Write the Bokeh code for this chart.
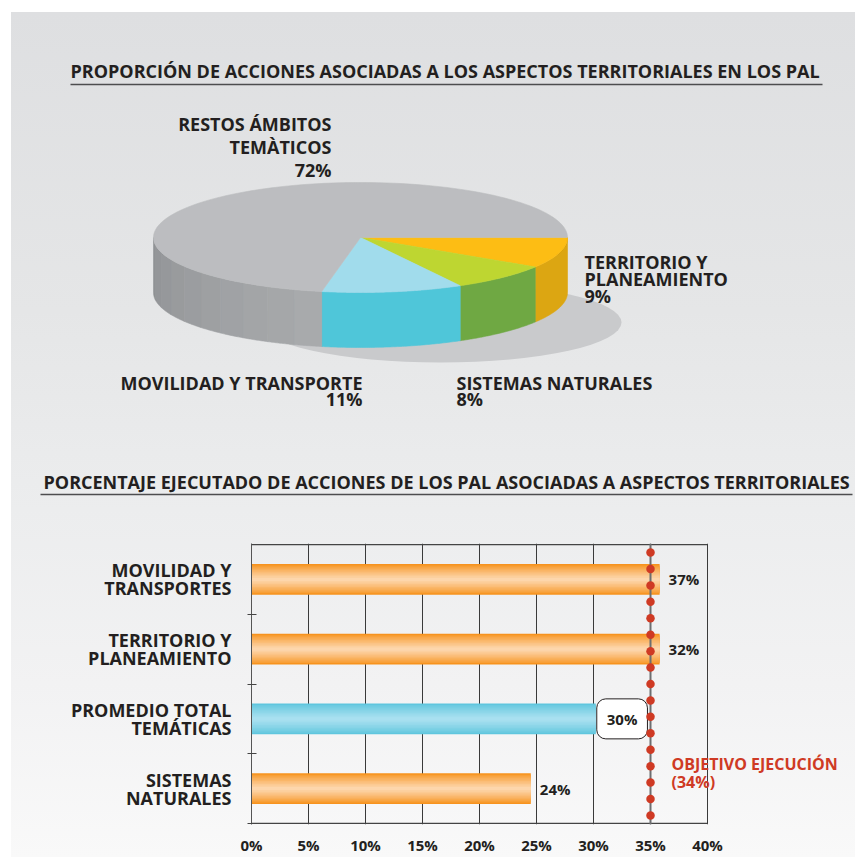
import numpy as np
from bokeh.plotting import figure
from bokeh.models import Range1d, FixedTicker, Label, ColumnDataSource
from bokeh.core.properties import value
from bokeh.embed import file_html
from bokeh.resources import INLINE

# ---------------- data ----------------
pie_title = "PROPORCIÓN DE ACCIONES ASOCIADAS A  LOS ASPECTOS TERRITORIALES EN LOS PAL"
pie_categories = ["TERRITORIO Y\nPLANEAMIENTO", "SISTEMAS NATURALES",
                  "MOVILIDAD Y TRANSPORTE", "RESTOS ÁMBITOS\nTEMÀTICOS"]
pie_values = [9, 8, 11, 72]
pie_top_colors = ["#fdbd14", "#bed631", "#a1dcec", "#bcbdc0"]
pie_side_colors = ["#dca612", "#6fa843", "#4fc6d9", "#9c9ea1"]

bar_title = "PORCENTAJE EJECUTADO DE ACCIONES DE LOS PAL ASOCIADAS A ASPECTOS TERRITORIALES"
bar_categories = ["MOVILIDAD Y\nTRANSPORTES", "TERRITORIO Y\nPLANEAMIENTO",
                  "PROMEDIO TOTAL\nTEMÁTICAS", "SISTEMAS\nNATURALES"]
bar_labels = ["37%", "32%", "30%", "24%"]
bar_lengths = [35.8, 35.8, 30.2, 24.5]   # drawn lengths
bar_kinds = ["orange", "orange", "blue", "orange"]
objective_x = 35
objective_text = ["OBJETIVO EJECUCIÓN", "(34%)"]
x_ticks = [0, 5, 10, 15, 20, 25, 30, 35, 40]
x_tick_labels = ["0%", "5%", "10%", "15%", "20%", "25%", "30%", "35%", "40%"]

# ---------------- styles ----------------
FONT = "Open Sans"
INK = "#231f20"
RED = "#cf3a24"
EDGE = {"orange": (0xf7, 0x93, 0x1e), "blue": (0x5f, 0xc6, 0xde)}
CORE = {"orange": (0xfd, 0xd6, 0xac), "blue": (0xa9, 0xe0, 0xf0)}
W = 855
H1 = 510
H2 = 347

def mix(c0, c1, f):
    return "#%02x%02x%02x" % tuple(int(round(a + (b - a) * f)) for a, b in zip(c0, c1))

# ---------------- top figure (pie) ----------------
p1 = figure(width=W, height=H1, x_range=Range1d(0, W), y_range=Range1d(H1, 0),
            output_backend="svg", toolbar_location=None, min_border=0,
            x_axis_type=None, y_axis_type=None,
            border_fill_color=None, background_fill_color=None, outline_line_color=None)
p1.grid.visible = False
p1.styles = {
    "background": "linear-gradient(to bottom, #dedfe1 0%, #e5e6e7 60%, #ecedee 100%)",
    "background-repeat": "no-repeat",
    "background-position": "11px 12px",
    "background-size": "calc(100% - 11px) calc(100% - 12px)",
}

def title_with_rule(p, x, y, text, x0, x1, yr):
    p.text(x=[x], y=[y], text=[text], text_font=value(FONT), text_font_style="bold",
           text_font_size="18px", text_color=INK, text_baseline="middle", text_align="left")
    p.segment(x0=[x0], x1=[x1], y0=[yr], y1=[yr], line_color="#4d4d4f", line_width=1.6)

title_with_rule(p1, 70, 70, pie_title, 70, 822, 84)
title_with_rule(p1, 43, 481, bar_title, 40, 852, 494)

cx, cy, rx, ry, depth = 360.0, 237.0, 207.0, 55.0, 55.0

# shadow
p1.ellipse(x=[440], y=[322], width=[362], height=[80], fill_color="#c9cacc",
           line_color=None)

tot = float(sum(pie_values))
bounds = np.concatenate([[0.0], np.cumsum(pie_values) / tot * 2 * np.pi])

side_xs, side_ys, side_cols = [], [], []
top_xs, top_ys = [], []
for i in range(len(pie_values)):
    a, b = bounds[i], bounds[i + 1]
    t = np.linspace(a, b, 120)
    top_xs.append([cx] + list(cx + rx * np.cos(t)))
    top_ys.append([cy] + list(cy + ry * np.sin(t)))
    lo, hi = max(a, 0.0), min(b, np.pi)
    if hi > lo:
        if i == len(pie_values) - 1:
            nn = 10
            edges = np.linspace(lo, hi, nn + 1)
            for k in range(nn):
                tt = np.linspace(edges[k], edges[k + 1], 20)
                xt = cx + rx * np.cos(tt); yt = cy + ry * np.sin(tt)
                side_xs.append(list(xt) + list(xt[::-1]))
                side_ys.append(list(yt) + list((yt + depth)[::-1]))
                side_cols.append(mix((0xa9, 0xab, 0xad), (0x90, 0x92, 0x95), (k + 0.5) / nn))
        else:
            tt = np.linspace(lo, hi, 80)
            xt = cx + rx * np.cos(tt); yt = cy + ry * np.sin(tt)
            side_xs.append(list(xt) + list(xt[::-1]))
            side_ys.append(list(yt) + list((yt + depth)[::-1]))
            side_cols.append(pie_side_colors[i])

p1.patches(xs=side_xs, ys=side_ys, fill_color=side_cols, line_color=side_cols, line_width=0.6)
p1.patches(xs=top_xs, ys=top_ys, fill_color=pie_top_colors, line_color=pie_top_colors,
           line_width=0.6)

# pie labels: (x, align, first line y, line spacing)
pie_label_layout = [(584, "left", 261.5, 17), (456, "left", 382, 16),
                    (362, "right", 382, 16), (331, "right", 123.5, 23)]
lx, ly, lt, la = [], [], [], []
for cat, v, (x, al, y0, dy) in zip(pie_categories, pie_values, pie_label_layout):
    lines = cat.split("\n") + [f"{v}%"]
    for j, ln in enumerate(lines):
        lx.append(x); ly.append(y0 + j * dy); lt.append(ln); la.append(al)
p1.text(x=lx, y=ly, text=lt, text_align=la, text_baseline="middle",
        text_font=value(FONT), text_font_style="bold", text_font_size="18px",
        text_color=INK)

# ---------------- bottom figure (bars) ----------------
n = len(bar_categories)
ypos = [n - i - 0.5 for i in range(n)]
eps = 0.015
FRAME_L, FRAME_R40 = 251, 707
x_end = 40 * (W - FRAME_L) / (FRAME_R40 - FRAME_L)   # room on the right for the note

p2 = figure(width=W, height=H2, x_range=Range1d(0, x_end), y_range=Range1d(-eps, n + eps),
            output_backend="svg", toolbar_location=None,
            min_border_left=FRAME_L, min_border_right=0, min_border_top=33,
            min_border_bottom=29,
            border_fill_color=None, background_fill_color=None, outline_line_color=None)
p2.styles = {
    "background": "linear-gradient(to bottom, #ecedee 0%, #f2f2f3 50%, #f9f9f9 100%)",
    "background-repeat": "no-repeat",
    "background-position": "11px 0px",
    "background-size": "calc(100% - 11px) 100%",
}

p2.xgrid.ticker = FixedTicker(ticks=x_ticks)
p2.xgrid.grid_line_color = "#3a3a3a"
p2.xgrid.grid_line_width = 1
p2.ygrid.visible = False

xa = p2.xaxis[0]
xa.ticker = FixedTicker(ticks=x_ticks)
xa.major_label_overrides = {t: l for t, l in zip(x_ticks, x_tick_labels)}
xa.major_tick_in = 0; xa.major_tick_out = 0
xa.minor_tick_line_color = None
xa.axis_line_color = None
xa.major_label_standoff = 10
xa.major_label_text_font = FONT
xa.major_label_text_font_style = "bold"
xa.major_label_text_font_size = "15px"
xa.major_label_text_color = INK

ya = p2.yaxis[0]
ya.ticker = FixedTicker(ticks=ypos, minor_ticks=list(range(n)))
ya.major_label_overrides = {y: c for y, c in zip(ypos, bar_categories)}
ya.major_tick_in = 0; ya.major_tick_out = 0
ya.minor_tick_in = 5; ya.minor_tick_out = 4
ya.minor_tick_line_color = "#444444"
ya.axis_line_color = "#555555"
ya.major_label_standoff = 16
ya.major_label_text_font = FONT
ya.major_label_text_font_style = "bold"
ya.major_label_text_font_size = "18px"
ya.major_label_text_line_height = 0.75
ya.major_label_text_color = INK

# plot box: top and bottom edges from 0 to the last tick
p2.segment(x0=[x_ticks[0]] * 2, x1=[x_ticks[-1]] * 2, y0=[0, n], y1=[0, n],
           line_color="#444444", line_width=1.2)

# bars with a smooth horizontal-band gradient (edge colour -> light core)
bar_h = 0.44
steps = 10
for k in range(steps):
    f = 1.0 - k / steps
    src = ColumnDataSource(dict(y=ypos, right=bar_lengths,
                                c=[mix(EDGE[kd], CORE[kd], (k / (steps - 1)) ** 0.8)
                                   for kd in bar_kinds]))
    p2.hbar(y="y", left=0, right="right", height=bar_h * f, source=src,
            fill_color="c", line_color=None)

# objective line with dots
p2.segment(x0=[objective_x], x1=[objective_x], y0=[-eps], y1=[n + eps],
           line_color="#6d6e70", line_width=2)
dot_y = np.linspace(0.115, n - 0.115, 17)

# value labels
plain = [i for i, kd in enumerate(bar_kinds) if kd != "blue"]
p2.text(x=[bar_lengths[i] for i in plain], y=[ypos[i] for i in plain],
        text=[bar_labels[i] for i in plain], x_offset=9, text_baseline="middle",
        text_align="left", text_font=value(FONT), text_font_style="bold",
        text_font_size="15px", text_color=INK)
for i, kd in enumerate(bar_kinds):
    if kd == "blue":
        p2.add_layout(Label(x=bar_lengths[i], y=ypos[i], text=bar_labels[i], x_offset=1,
                            text_baseline="middle", text_align="left",
                            text_font=FONT, text_font_style="bold",
                            text_font_size="15px", text_color=INK,
                            background_fill_color="white", border_line_color=INK,
                            border_line_width=1, border_radius=9, padding=10))

obj_y = [ypos[-1] + 0.355, ypos[-1] + 0.09]
for txt, yy in zip(objective_text, obj_y):
    p2.add_layout(Label(x=objective_x, y=yy, text=txt, x_offset=21,
                        text_baseline="middle", text_align="left",
                        text_font=FONT, text_font_style="bold",
                        text_font_size="16px", text_color=RED))

# dots drawn last so they sit above the boxed label, as in the reference
dots = p2.scatter(x=[objective_x] * len(dot_y), y=dot_y, size=8.5, fill_color=RED,
                  line_color=None, level="overlay")

open("out.html", "w").write(file_html([p1, p2], INLINE))
